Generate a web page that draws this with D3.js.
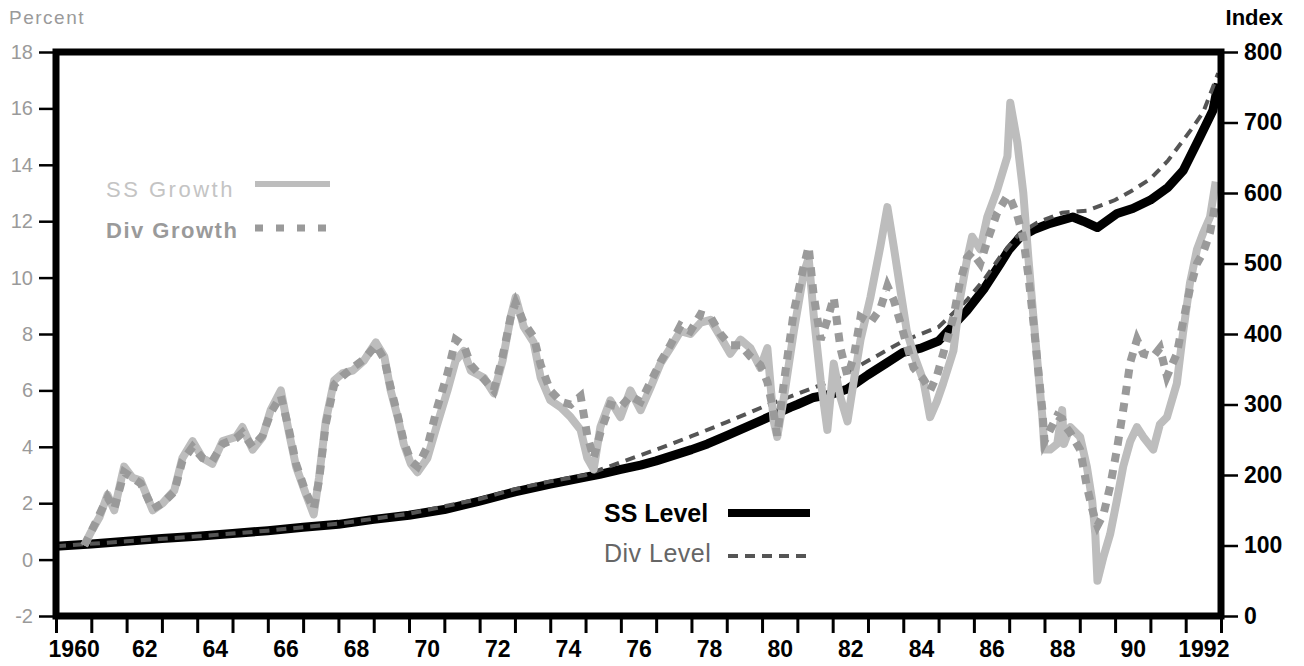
<!DOCTYPE html>
<html>
<head>
<meta charset="utf-8">
<script src="https://cdn.jsdelivr.net/npm/d3@7"></script>
<style>
  body { margin: 0; background: #fff; }
  text { font-family: "Liberation Sans", Arial, Helvetica, sans-serif; }
</style>
</head>
<body>
<svg id="chart" width="1304" height="666"></svg>
<script>
// Values
var growthYears = [1960.8, 1961.0, 1961.23, 1961.46, 1961.65, 1961.93, 1962.17, 1962.4, 1962.74, 1963.02,
    1963.35, 1963.58, 1963.87, 1964.15, 1964.43, 1964.72, 1965.1, 1965.28, 1965.57, 1965.85,
    1966.08, 1966.37, 1966.6, 1966.8, 1967.07, 1967.3, 1967.45, 1967.64, 1967.88, 1968.11,
    1968.4, 1968.72, 1969.06, 1969.3, 1969.48, 1969.68, 1969.85, 1970.05, 1970.24, 1970.52,
    1970.8, 1971.09, 1971.32, 1971.55, 1971.75, 1972.12, 1972.4, 1972.65, 1972.88, 1973.02,
    1973.25, 1973.53, 1973.73, 1974.0, 1974.3, 1974.58, 1974.86, 1975.05, 1975.23, 1975.42,
    1975.7, 1975.99, 1976.27, 1976.56, 1976.84, 1977.12, 1977.4, 1977.69, 1977.97, 1978.26,
    1978.54, 1978.82, 1979.1, 1979.39, 1979.67, 1979.95, 1980.15, 1980.33, 1980.43, 1980.62,
    1980.9, 1981.18, 1981.32, 1981.46, 1981.66, 1981.85, 1982.03, 1982.22, 1982.42, 1982.6,
    1982.79, 1983.07, 1983.35, 1983.55, 1983.73, 1983.92, 1984.1, 1984.29, 1984.57, 1984.76,
    1984.95, 1985.13, 1985.42, 1985.6, 1985.8, 1985.95, 1986.18, 1986.38, 1986.66, 1986.95,
    1987.03, 1987.23, 1987.4, 1987.55, 1987.68, 1987.8, 1987.94, 1988.0, 1988.16, 1988.36,
    1988.5, 1988.55, 1988.73, 1989.01, 1989.2, 1989.35, 1989.44, 1989.5, 1989.67, 1989.86,
    1990.05, 1990.23, 1990.43, 1990.62, 1990.8, 1991.08, 1991.27, 1991.47, 1991.75, 1991.92,
    1992.12, 1992.32, 1992.5, 1992.69, 1992.85];

var ssGrowth = [0.5, 1.0, 1.5, 2.3, 1.75, 3.3, 2.9, 2.8, 1.75, 2.0,
    2.45, 3.6, 4.2, 3.6, 3.4, 4.2, 4.35, 4.7, 3.9, 4.35,
    5.3, 6.0, 4.5, 3.3, 2.35, 1.6, 2.9, 4.9, 6.35, 6.6,
    6.7, 7.05, 7.7, 7.2, 6.0, 5.05, 4.1, 3.4, 3.1, 3.6,
    4.8, 6.0, 7.05, 7.4, 6.7, 6.45, 5.9, 7.05, 8.6, 9.3,
    8.25, 7.7, 6.45, 5.65, 5.4, 5.05, 4.6, 3.6, 3.2, 4.7,
    5.65, 5.05, 6.0, 5.3, 6.1, 6.95, 7.5, 8.1, 8.0, 8.4,
    8.5, 7.9, 7.3, 7.8, 7.5, 6.8, 7.5, 4.9, 4.35, 5.75,
    8.1, 10.15, 10.7, 8.7, 6.35, 4.6, 6.95, 5.75, 4.9, 6.35,
    7.8, 9.3, 11.1, 12.5, 11.1, 9.55, 8.1, 7.3, 6.35, 5.05,
    5.6, 6.25, 7.4, 9.2, 10.6, 11.45, 11.0, 12.15, 13.1, 14.3,
    16.2, 14.8, 13.0, 10.6, 8.7, 7.0, 5.05, 3.9, 3.9, 4.1,
    5.3, 4.1, 4.7, 4.35, 3.3, 2.1, 0.9, -0.75, 0.1, 0.9,
    2.1, 3.3, 4.2, 4.7, 4.35, 3.9, 4.8, 5.05, 6.25, 8.0,
    9.8, 11.0, 11.6, 12.15, 13.4];

var divGrowth = [0.5, 1.0, 1.6, 2.2, 1.8, 3.1, 2.9, 2.7, 1.8, 2.0,
    2.4, 3.5, 4.0, 3.6, 3.5, 4.1, 4.3, 4.5, 4.0, 4.4,
    5.2, 5.8, 4.6, 3.4, 2.4, 1.8, 2.8, 4.8, 6.2, 6.5,
    6.8, 7.1, 7.6, 7.1, 6.1, 5.1, 4.2, 3.5, 3.3, 4.0,
    5.4, 6.6, 7.8, 7.6, 6.9, 6.4, 6.0, 7.2, 8.6, 9.1,
    8.4, 7.9, 6.9, 6.0, 5.6, 5.5, 5.8, 4.4, 3.6, 4.5,
    5.5, 5.4, 5.8, 5.6, 6.3, 7.0, 7.6, 8.3, 8.1, 8.7,
    8.6, 8.0, 7.6, 7.6, 7.2, 6.9, 6.3, 5.2, 4.4, 6.3,
    8.8, 10.4, 11.1, 9.4, 7.8, 8.5, 9.3, 7.5, 6.5, 7.2,
    8.6, 8.4, 8.9, 9.7, 9.2, 8.4, 7.6, 6.8, 6.4, 6.0,
    6.5, 7.3, 8.6, 9.8, 10.7, 10.9, 10.5, 11.3, 12.3, 12.9,
    12.8, 12.2, 11.4, 10.0, 8.5, 7.0, 5.3, 4.2, 4.6, 5.1,
    5.0, 4.8, 4.5, 3.9, 2.6, 1.8, 1.4, 1.2, 1.6, 2.6,
    3.9, 5.3, 7.0, 7.8, 7.3, 7.2, 7.5, 6.5, 7.3, 8.4,
    9.6, 10.5, 10.9, 11.6, 12.7];

var ssLevelYears = [1960.0, 1961, 1962, 1963, 1964, 1965, 1966, 1967, 1968, 1969,
    1970, 1971, 1972, 1973, 1974, 1975, 1975.4, 1976, 1976.56, 1977,
    1978, 1978.45, 1979, 1980, 1980.8, 1981, 1981.46, 1982, 1982.42, 1983,
    1983.5, 1984, 1984.5, 1985, 1985.8, 1986.3, 1986.75, 1987, 1987.3, 1987.7,
    1988.16, 1988.8, 1989.1, 1989.5, 1990.06, 1990.5, 1991.0, 1991.5, 1991.93, 1992.4,
    1992.77, 1992.92];
var ssLevel = [99, 102, 106, 110, 113, 117, 121, 126, 130, 137,
    143, 151, 163, 176, 187, 197, 201, 208, 214, 220,
    236, 244, 256, 278, 296, 300, 310, 315, 322, 342,
    358, 374, 380, 390, 433, 465, 500, 520, 537, 548,
    557, 566, 560, 551, 571, 578, 590, 608, 632, 679,
    717, 755];

var divLevelYears = [1960.0, 1962, 1964, 1966, 1968, 1970, 1972, 1973, 1974, 1975,
    1976, 1977, 1978, 1979, 1980, 1981, 1982, 1983, 1984, 1985,
    1985.8, 1986.3, 1986.75, 1987.3, 1987.8, 1988.5, 1989.2, 1990, 1990.5, 1991,
    1991.5, 1992.2, 1992.5, 1992.77, 1992.92];
var divLevel = [99, 106, 113, 121, 131, 145, 166, 180, 191, 200,
    218, 236, 255, 275, 296, 315, 334, 362, 390, 410,
    448, 478, 510, 543, 558, 572, 575, 590, 604, 620,
    646, 693, 715, 750, 770];

var percentTicks = [-2, 0, 2, 4, 6, 8, 10, 12, 14, 16, 18];
var indexTicks = [0, 100, 200, 300, 400, 500, 600, 700, 800];
var yearTicks = d3.range(1960, 1994);
var labelYears = [1960, 1962, 1964, 1966, 1968, 1970, 1972, 1974, 1976, 1978, 1980, 1982, 1984, 1986, 1988, 1990, 1992];
var yearLabels = ["1960", "62", "64", "66", "68", "70", "72", "74", "76", "78", "80", "82", "84", "86", "88", "90", "1992"];

// Layout
var plotLeft = 56, plotRight = 1221, plotTop = 52, plotBottom = 616;

var svg = d3.select("#chart");

var x = d3.scaleLinear().domain([1960, 1993]).range([plotLeft, plotRight]);
var yPct = d3.scaleLinear().domain([-2, 18]).range([plotBottom, plotTop]);
var yIdx = d3.scaleLinear().domain([0, 800]).range([plotBottom, plotTop]);

function pairs(xs, ys) {
    return xs.map(function(d, i) { return [d, ys[i]]; });
}

// Lines
var levelLine = d3.line()
    .x(function(d) { return x(d[0]); })
    .y(function(d) { return yIdx(d[1]); });

var growthLine = d3.line()
    .x(function(d) { return x(d[0]); })
    .y(function(d) { return yPct(d[1]); });

var plot = svg.append("g");

plot.append("path")
    .datum(pairs(ssLevelYears, ssLevel))
    .attr("d", levelLine)
    .attr("fill", "none")
    .attr("stroke", "#000")
    .attr("stroke-width", 9)
    .attr("stroke-linejoin", "round");

plot.append("path")
    .datum(pairs(divLevelYears, divLevel))
    .attr("d", levelLine)
    .attr("fill", "none")
    .attr("stroke", "#555")
    .attr("stroke-width", 4)
    .attr("stroke-dasharray", "10,7");

plot.append("path")
    .datum(pairs(growthYears, ssGrowth))
    .attr("d", growthLine)
    .attr("fill", "none")
    .attr("stroke", "#bdbdbd")
    .attr("stroke-width", 8)
    .attr("stroke-linejoin", "round");

plot.append("path")
    .datum(pairs(growthYears, divGrowth))
    .attr("d", growthLine)
    .attr("fill", "none")
    .attr("stroke", "#9a9a9a")
    .attr("stroke-width", 8)
    .attr("stroke-dasharray", "9,8");

// Frame
svg.append("rect")
    .attr("x", plotLeft).attr("y", plotTop)
    .attr("width", plotRight - plotLeft).attr("height", plotBottom - plotTop)
    .attr("fill", "none")
    .attr("stroke", "#000")
    .attr("stroke-width", 7);

// Left axis (percent)
var leftAxis = svg.append("g")
    .attr("transform", "translate(" + (plotLeft - 3) + ",0)")
    .call(d3.axisLeft(yPct).tickValues(percentTicks).tickSize(14).tickPadding(6));
leftAxis.select(".domain").remove();
leftAxis.selectAll("line").attr("stroke", "#000").attr("stroke-width", 2.5);
leftAxis.selectAll("text")
    .attr("fill", "#9a9a9a")
    .style("font-size", "20px")
    .text(function(d) { return d < 0 ? "-" + Math.abs(d) : d; });

// Right axis (index)
var rightAxis = svg.append("g")
    .attr("transform", "translate(" + (plotRight + 3) + ",0)")
    .call(d3.axisRight(yIdx).tickValues(indexTicks).tickSize(14).tickPadding(6));
rightAxis.select(".domain").remove();
rightAxis.selectAll("line").attr("stroke", "#000").attr("stroke-width", 2.5);
rightAxis.selectAll("text")
    .attr("fill", "#000")
    .style("font-size", "23px")
    .style("font-weight", "bold");

// Bottom axis: a tick at every year, label centred within the year
var tickAxis = svg.append("g")
    .attr("transform", "translate(0," + (plotBottom + 3) + ")")
    .call(d3.axisBottom(x).tickValues(yearTicks).tickSize(14).tickFormat(""));
tickAxis.select(".domain").remove();
tickAxis.selectAll("line").attr("stroke", "#000").attr("stroke-width", 3);

var labelAxis = svg.append("g")
    .attr("transform", "translate(0," + (plotBottom + 3) + ")")
    .call(d3.axisBottom(x)
        .tickValues(labelYears.map(function(d) { return d + 0.5; }))
        .tickSize(0).tickPadding(22)
        .tickFormat(function(d, i) { return yearLabels[i]; }));
labelAxis.select(".domain").remove();
labelAxis.selectAll("text")
    .attr("fill", "#000")
    .style("font-size", "23px")
    .style("font-weight", "bold");

// Axis titles
svg.append("text")
    .attr("x", 9).attr("y", 24)
    .attr("fill", "#9a9a9a")
    .style("font-size", "19px")
    .style("letter-spacing", "1.5px")
    .text("Percent");

svg.append("text")
    .attr("x", 1283).attr("y", 25)
    .attr("text-anchor", "end")
    .attr("fill", "#000")
    .style("font-size", "22px")
    .style("font-weight", "bold")
    .text("Index");

// Legends
var legend = svg.append("g");

legend.append("text")
    .attr("x", 106).attr("y", 197)
    .attr("fill", "#c4c4c4")
    .style("font-size", "22px")
    .style("letter-spacing", "2.5px")
    .text("SS Growth");
legend.append("line")
    .attr("x1", 255).attr("x2", 330).attr("y1", 184).attr("y2", 184)
    .attr("stroke", "#bdbdbd").attr("stroke-width", 6);

legend.append("text")
    .attr("x", 106).attr("y", 238)
    .attr("fill", "#9a9a9a")
    .style("font-size", "22px")
    .style("font-weight", "bold")
    .style("letter-spacing", "1.5px")
    .text("Div Growth");
legend.append("line")
    .attr("x1", 255).attr("x2", 330).attr("y1", 228).attr("y2", 228)
    .attr("stroke", "#9a9a9a").attr("stroke-width", 7)
    .attr("stroke-dasharray", "8,13");

legend.append("text")
    .attr("x", 604).attr("y", 522)
    .attr("fill", "#000")
    .style("font-size", "25px")
    .style("font-weight", "bold")
    .text("SS Level");
legend.append("line")
    .attr("x1", 728).attr("x2", 810).attr("y1", 513).attr("y2", 513)
    .attr("stroke", "#000").attr("stroke-width", 8);

legend.append("text")
    .attr("x", 604).attr("y", 562)
    .attr("fill", "#666")
    .style("font-size", "25px")
    .style("letter-spacing", "0.5px")
    .text("Div Level");
legend.append("line")
    .attr("x1", 728).attr("x2", 810).attr("y1", 556).attr("y2", 556)
    .attr("stroke", "#555").attr("stroke-width", 4)
    .attr("stroke-dasharray", "10,7");
</script>
</body>
</html>
